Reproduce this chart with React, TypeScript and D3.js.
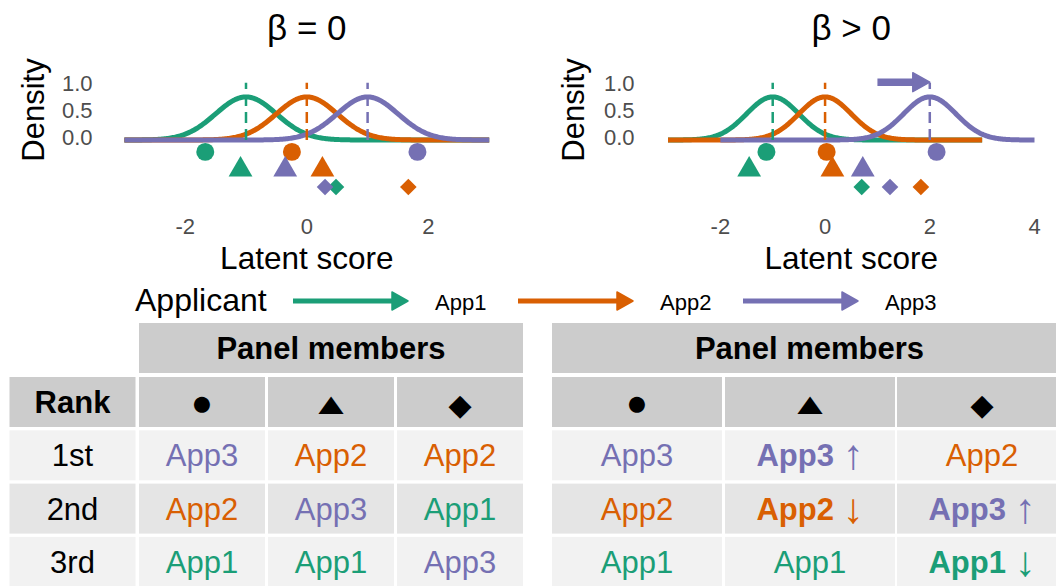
import React from "react";
import * as d3 from "d3";

// ---------- data ----------
const applicants = ["App1", "App2", "App3"];
const appColors = ["#1B9E77", "#D95F02", "#7570B3"];
const curveSD = 0.5;
const meansLeft = [-1, 0, 1];
const meansRight = [-1, 0, 2];
const curveStartLeft = [-3, -3, -3];
const curveEndLeft = [3, 3, 3];
const curveStartRight = [-3, -3, -2];
const curveEndRight = [3, 3, 4];
// panel member scores per applicant (App1, App2, App3)
const circleLeft = [-1.67, -0.245, 1.82];
const triangleLeft = [-1.09, 0.257, -0.355];
const diamondLeft = [0.48, 1.67, 0.3];
const circleRight = [-1.12, 0.03, 2.13];
const triangleRight = [-1.45, 0.14, 0.72];
const diamondRight = [0.7, 1.83, 1.24];
const markerLevels = [-0.22, -0.55, -0.87]; // circle, triangle, diamond
const xTicksLeft = [-2, 0, 2];
const xTicksRight = [-2, 0, 2, 4];
const yTicks = [0, 0.5, 1];
const vlineTop = 1.06;
const shiftFrom = 1;
const shiftTo = 2;
const shiftLevel = 1.07;
const titles = ["β = 0", "β > 0"];
const rankLabels = ["1st", "2nd", "3rd"];
const symbolLabels = ["●", "▲", "◆"];
const tableLeft = [
  ["App3", "App2", "App2"],
  ["App2", "App3", "App1"],
  ["App1", "App1", "App3"],
];
const tableRight = [
  ["App3", "App3", "App2"],
  ["App2", "App2", "App3"],
  ["App1", "App1", "App1"],
];
const changeRight = [
  ["", "↑", ""],
  ["", "↓", "↑"],
  ["", "", "↓"],
];

// ---------- layout ----------
const W = 1056;
const H = 586;
const FONT = "'Liberation Sans', Arial, Helvetica, sans-serif";
const TICK_COLOR = "#4D4D4D";
const yScale = d3.scaleLinear().domain([0, 1]).range([140, 86]);
const xLeft = d3.scaleLinear().domain([-3, 3]).range([124.4, 489.2]);
const xRight = d3.scaleLinear().domain([-3, 4]).range([668, 1034.5]);

const dnorm = (x: number, m: number, s: number) =>
  Math.exp(-0.5 * ((x - m) / s) ** 2) / (s * Math.sqrt(2 * Math.PI));

const colorOf = (app: string) => appColors[applicants.indexOf(app)];

function ArrowShape({ x1, x2, y, color, shaft, headLen, headHalf }: any) {
  const xe = x2 - headLen;
  return (
    <g>
      <line x1={x1} x2={xe + 1} y1={y} y2={y} stroke={color} strokeWidth={shaft} />
      <path d={`M${xe},${y - headHalf}L${x2},${y}L${xe},${y + headHalf}Z`} fill={color} stroke={color} strokeWidth={1.5} strokeLinejoin="round" />
    </g>
  );
}

function DensityPlot(props: any) {
  const { x, means, starts, ends, circles, triangles, diamonds, title, xTicks, yLabelRight, densityX, arrow } = props;
  const line = d3
    .line<[number, number]>()
    .x((d) => x(d[0]))
    .y((d) => yScale(d[1]));
  const [r0, r1] = x.range();
  const cx = (r0 + r1) / 2;
  const circ = d3.symbol().type(d3.symbolCircle).size(254)();
  const tri = d3.symbol().type(d3.symbolTriangle).size(245)();
  const dia = d3.symbol().type(d3.symbolSquare).size(138)();
  return (
    <g fontFamily={FONT}>
      <text x={cx} y={40} textAnchor="middle" fontSize={35} fill="#000">
        {title}
      </text>
      <text
        transform={`translate(${densityX},110) rotate(-90)`}
        textAnchor="middle"
        fontSize={31}
        fill="#000"
      >
        Density
      </text>
      {yTicks.map((t) => (
        <text key={t} x={yLabelRight} y={yScale(t) + 5} textAnchor="end" fontSize={22} fill={TICK_COLOR}>
          {d3.format(".1f")(t)}
        </text>
      ))}
      {means.map((m: number, i: number) => {
        const pts: [number, number][] = d3
          .range(starts[i], ends[i] + 0.0001, 0.02)
          .map((v) => [v, dnorm(v, m, curveSD)] as [number, number]);
        return (
          <path key={"c" + i} d={line(pts) || ""} fill="none" stroke={appColors[i]} strokeWidth={5} strokeLinejoin="round" />
        );
      })}
      {means.map((m: number, i: number) => (
        <line
          key={"v" + i}
          x1={x(m)}
          x2={x(m)}
          y1={yScale(0)}
          y2={yScale(vlineTop)}
          stroke={appColors[i]}
          strokeWidth={2.5}
          strokeDasharray="11 6"
        />
      ))}
      {arrow && (
        <ArrowShape
          x1={x(shiftFrom)}
          x2={x(shiftTo)}
          y={yScale(shiftLevel)}
          color={appColors[2]}
          shaft={7.5}
          headLen={17}
          headHalf={9.5}
        />
      )}
      {circles.map((v: number, i: number) => (
        <path key={"pc" + i} d={circ || ""} transform={`translate(${x(v)},${yScale(markerLevels[0])})`} fill={appColors[i]} />
      ))}
      {triangles.map((v: number, i: number) => (
        <path key={"pt" + i} d={tri || ""} transform={`translate(${x(v)},${yScale(markerLevels[1])})`} fill={appColors[i]} />
      ))}
      {diamonds.map((v: number, i: number) => (
        <path key={"pd" + i} d={dia || ""} transform={`translate(${x(v)},${yScale(markerLevels[2])}) rotate(45)`} fill={appColors[i]} />
      ))}
      {xTicks.map((t: number) => (
        <text key={"xt" + t} x={x(t)} y={234} textAnchor="middle" fontSize={22} fill={TICK_COLOR}>
          {t}
        </text>
      ))}
      <text x={cx} y={269} textAnchor="middle" fontSize={31.5} fill="#000">
        Latent score
      </text>
    </g>
  );
}

function Legend() {
  const arrowX = [293, 518, 743];
  const labelX = [435, 660, 885];
  return (
    <g fontFamily={FONT}>
      <text x={135} y={311} fontSize={32} fill="#000">
        Applicant
      </text>
      {applicants.map((a, i) => (
        <g key={a}>
          <ArrowShape x1={arrowX[i]} x2={arrowX[i] + 115} y={301} color={appColors[i]} shaft={5} headLen={16} headHalf={9} />
          <text x={labelX[i]} y={310} fontSize={22} fill="#000">
            {a}
          </text>
        </g>
      ))}
    </g>
  );
}

const HEADER_FILL = "#CCCCCC";
const ROW_FILLS = ["#F2F2F2", "#E5E5E5", "#F2F2F2"];
const ROW_H = 50;
const headTop = 323;
const rowTops = [377, 430.3, 483.6, 536.9];
// header symbol glyph styling: font size, vertical scale, baseline offset (local units)
const SYM_STYLE = [
  { size: 37, sy: 1, dy: 9.6 },
  { size: 43, sy: 0.7, dy: 12.9 },
  { size: 30, sy: 1, dy: 9.6 },
];

function Table(props: any) {
  const { colX, colW, data, changes, withRank } = props;
  const allX = withRank ? [9.5, ...colX] : colX;
  const left = colX[0];
  const right = colX[colX.length - 1] + colW;
  const symCY = rowTops[0] + 28;
  return (
    <g fontFamily={FONT}>
      <rect x={left} y={headTop} width={right - left} height={ROW_H} fill={HEADER_FILL} />
      <text x={(left + right) / 2} y={headTop + ROW_H / 2 + 11} textAnchor="middle" fontSize={31} fontWeight="bold" fill="#000">
        Panel members
      </text>
      {allX.map((cx: number, j: number) => (
        <rect key={"h" + j} x={cx} y={rowTops[0]} width={colW} height={ROW_H} fill={HEADER_FILL} />
      ))}
      {withRank && (
        <text x={9.5 + colW / 2} y={rowTops[0] + ROW_H / 2 + 11} textAnchor="middle" fontSize={31} fontWeight="bold" fill="#000">
          Rank
        </text>
      )}
      {colX.map((cx: number, j: number) => (
        <g key={"s" + j} transform={`translate(${cx + colW / 2},${symCY}) scale(1,${SYM_STYLE[j].sy})`}>
          <text
            x={0}
            y={SYM_STYLE[j].dy}
            textAnchor="middle"
            fontSize={SYM_STYLE[j].size}
            fontFamily="'Liberation Sans', 'DejaVu Sans', sans-serif"
            fill="#000"
          >
            {symbolLabels[j]}
          </text>
        </g>
      ))}
      {data.map((row: string[], i: number) => (
        <g key={"r" + i}>
          {allX.map((cx: number, j: number) => (
            <rect key={"rc" + j} x={cx} y={rowTops[i + 1]} width={colW} height={ROW_H} fill={ROW_FILLS[i]} />
          ))}
          {withRank && (
            <text x={9.5 + colW / 2} y={rowTops[i + 1] + ROW_H / 2 + 11} textAnchor="middle" fontSize={31} fill="#000">
              {rankLabels[i]}
            </text>
          )}
          {row.map((app: string, j: number) => {
            const ch = changes ? changes[i][j] : "";
            return (
              <text
                key={"t" + j}
                x={colX[j] + colW / 2}
                y={rowTops[i + 1] + ROW_H / 2 + 11}
                textAnchor="middle"
                fontSize={31}
                fill={colorOf(app)}
              >
                <tspan fontWeight={ch ? "bold" : "normal"}>{app}</tspan>
                {ch ? <tspan fontWeight="normal">{" "}</tspan> : null}
                {ch ? <tspan fontWeight="normal" fontSize={42} dy={3}>{ch}</tspan> : null}
              </text>
            );
          })}
        </g>
      ))}
    </g>
  );
}

export default function App() {
  return (
    <svg
      width={W}
      height={H}
      viewBox={`0 0 ${W} ${H}`}
      style={{ position: "absolute", left: 0, top: 0, display: "block", background: "#fff" }}
    >
      <rect width={W} height={H} fill="#fff" />
      <DensityPlot
        x={xLeft}
        means={meansLeft}
        starts={curveStartLeft}
        ends={curveEndLeft}
        circles={circleLeft}
        triangles={triangleLeft}
        diamonds={diamondLeft}
        title={titles[0]}
        xTicks={xTicksLeft}
        yLabelRight={92.5}
        densityX={43.5}
        arrow={false}
      />
      <DensityPlot
        x={xRight}
        means={meansRight}
        starts={curveStartRight}
        ends={curveEndRight}
        circles={circleRight}
        triangles={triangleRight}
        diamonds={diamondRight}
        title={titles[1]}
        xTicks={xTicksRight}
        yLabelRight={634.5}
        densityX={583.5}
        arrow={true}
      />
      <Legend />
      <Table colX={[139, 268, 397]} colW={126} data={tableLeft} withRank={true} />
      <Table colX={[552, 725, 897]} colW={170} data={tableRight} changes={changeRight} withRank={false} />
    </svg>
  );
}
